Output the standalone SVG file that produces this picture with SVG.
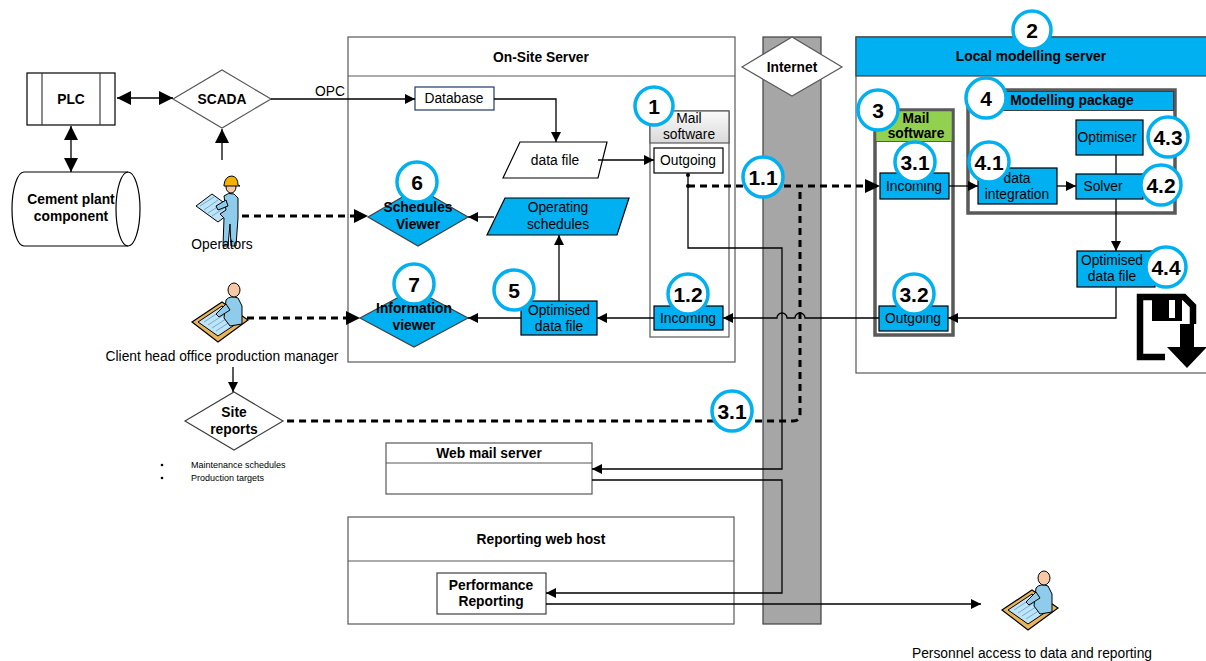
<svg xmlns="http://www.w3.org/2000/svg" width="1206" height="661" viewBox="0 0 1206 661">
  <defs>
    <style>
      text { font-family: "Liberation Sans", Arial, sans-serif; fill: #000; }
      .t { font-size: 13.8px; text-anchor: middle; }
      .b { font-size: 13.8px; font-weight: bold; text-anchor: middle; }
      .small { font-size: 9px; }
      .badge circle { fill: #fff; stroke: #00B0F0; stroke-width: 3.5; }
      .badge text { font-size: 21px; font-weight: bold; text-anchor: middle; }
      .frame { fill: #fff; stroke: #595959; stroke-width: 1.2; }
      .blue { fill: #00B0F0; stroke: #000; stroke-width: 1.2; }
      .white { fill: #fff; stroke: #000; stroke-width: 1.2; }
      .thick { fill: none; stroke: #595959; stroke-width: 3.5; }
      .ln { fill: none; stroke: #000; stroke-width: 1.3; }
      .dash { fill: none; stroke: #000; stroke-width: 3; stroke-dasharray: 7 5; }
      .skin { fill: #F6C8A6; stroke: #000; stroke-width: 1; }
      .shirt { fill: #8FCBEA; stroke: #000; stroke-width: 1; }
      .plan { fill: #BFE3F7; stroke: #000; stroke-width: 1; }
      .desk { fill: #E9B45A; stroke: #000; stroke-width: 1.2; }
    </style>
    <marker id="arr" viewBox="0 0 10 10" refX="10" refY="5" markerWidth="11" markerHeight="10" markerUnits="userSpaceOnUse" orient="auto-start-reverse">
      <path d="M0,0 L10,5 L0,10 z" fill="#000"/>
    </marker>
    <marker id="arrBig" viewBox="0 0 10 10" refX="10" refY="5" markerWidth="16" markerHeight="14" markerUnits="userSpaceOnUse" orient="auto-start-reverse">
      <path d="M0,0 L10,5 L0,10 z" fill="#000"/>
    </marker>
    <linearGradient id="hdrGrey" x1="0" y1="0" x2="0" y2="1">
      <stop offset="0" stop-color="#FAFAFA"/>
      <stop offset="1" stop-color="#D9D9D9"/>
    </linearGradient>
    <!-- worker holding a plan, with hard hat -->
    <g id="worker">
      <path class="plan" d="M-26,18 L-10,6 L12,22 L-4,34 z"/>
      <path d="M-22,18 L-8,9 M-18,22 L-4,12 M-14,25 L0,16 M-10,28 L4,19" stroke="#5aa0c8" stroke-width="0.8" fill="none"/>
      <path class="shirt" d="M2,8 Q6,4 12,6 L16,10 L16,30 L14,58 L9,58 L8,36 L6,58 L1,58 L2,30 L-2,26 L4,22 z"/>
      <path class="shirt" d="M4,12 L-6,18 L-4,22 L6,18 z"/>
      <ellipse class="skin" cx="9" cy="-1" rx="5" ry="6"/>
      <path d="M2,-3 Q3,-12 10,-12 Q16,-11 16,-3 L18,-2 L2,-2 z" fill="#F2B300" stroke="#000" stroke-width="1"/>
    </g>
    <!-- person sitting at a drafting desk -->
    <g id="deskman">
      <path class="desk" d="M-28,10 L2,-10 L28,8 L-2,30 z"/>
      <path class="plan" d="M-22,10 L2,-6 L22,8 L-2,24 z"/>
      <path d="M-16,10 L4,-3 M-12,13 L8,0 M-8,16 L12,3 M-4,19 L16,6" stroke="#5aa0c8" stroke-width="0.8" fill="none"/>
      <path class="shirt" d="M6,-12 Q10,-17 18,-14 L22,-6 L22,12 L10,14 L4,6 z"/>
      <path class="shirt" d="M6,-8 L-4,2 L-1,5 L10,-2 z"/>
      <ellipse class="skin" cx="14" cy="-22" rx="6" ry="7"/>
    </g>
  </defs>

  <rect width="1206" height="661" fill="#fff"/>

  <!-- Internet backbone band -->
  <g id="internet">
    <rect x="763" y="37" width="58" height="587" fill="#A6A6A6" stroke="#404040" stroke-width="1.2"/>
    <path d="M742,67 L792,37 L842,67 L792,96 z" fill="#fff" stroke="#595959" stroke-width="1.2"/>
    <text class="b" x="792" y="72">Internet</text>
  </g>

  <!-- field side -->
  <g id="plc">
    <rect x="27" y="73" width="88" height="52" class="white" stroke="#404040"/>
    <path d="M42,73 V125 M100,73 V125" stroke="#404040" stroke-width="1.2"/>
    <text class="b" x="71" y="104">PLC</text>
  </g>
  <g id="cement-plant">
    <path d="M24,172 H128 A12,37 0 0 1 128,246 H24 A12,37 0 0 1 24,172 Z" fill="#fff" stroke="#000" stroke-width="1.2"/>
    <path d="M128,172 A12,37 0 0 0 128,246" fill="none" stroke="#000" stroke-width="1.2"/>
    <text class="b" x="71" y="204">Cement plant</text>
    <text class="b" x="71" y="221">component</text>
  </g>
  <g id="scada">
    <path d="M173,99 L222,70 L271,99 L222,128 z" fill="#fff" stroke="#595959" stroke-width="1.2"/>
    <text class="b" x="222" y="104">SCADA</text>
  </g>
  <g id="operators">
    <use href="#worker" x="222" y="188"/>
    <text class="t" x="222" y="249">Operators</text>
  </g>
  <g id="client-manager">
    <use href="#deskman" x="220" y="312"/>
    <text class="t" x="222" y="361">Client head office production manager</text>
  </g>
  <g id="site-reports">
    <path d="M185,421 L234,392 L283,421 L234,450 z" fill="#fff" stroke="#404040" stroke-width="1.2"/>
    <text class="b" x="234" y="417">Site</text>
    <text class="b" x="234" y="434">reports</text>
    <circle cx="162" cy="465" r="1.3" fill="#000"/>
    <circle cx="162" cy="478" r="1.3" fill="#000"/>
    <text class="small" x="191" y="468">Maintenance schedules</text>
    <text class="small" x="191" y="481">Production targets</text>
  </g>

  <!-- On-site server -->
  <g id="on-site-server">
    <rect x="348" y="37" width="387" height="325" class="frame"/>
    <line x1="348" y1="76" x2="735" y2="76" stroke="#595959" stroke-width="1.2"/>
    <text class="b" x="541" y="62">On-Site Server</text>
  </g>
  <g id="database">
    <rect x="415" y="87" width="79" height="23" fill="#fff" stroke="#1F3864" stroke-width="1.2"/>
    <text class="t" x="454" y="103">Database</text>
  </g>
  <g id="data-file">
    <path d="M520,142 H607 L598,178 H503 z" class="white"/>
    <text class="t" x="555" y="165">data file</text>
  </g>
  <g id="mail-software-1">
    <rect x="650" y="111" width="79" height="226" fill="#fff" stroke="#595959" stroke-width="1.2"/>
    <rect x="650" y="111" width="79" height="32" fill="url(#hdrGrey)" stroke="#595959" stroke-width="1.2"/>
    <text class="t" x="689" y="123">Mail</text>
    <text class="t" x="689" y="139">software</text>
  </g>
  <g id="outgoing-1">
    <rect x="654" y="148" width="69" height="25" class="white"/>
    <text class="t" x="688" y="165">Outgoing</text>
  </g>
  <g id="incoming-1-2">
    <rect x="654" y="306" width="69" height="24" class="blue"/>
    <text class="t" x="688" y="323">Incoming</text>
  </g>
  <g id="optimised-data-file-5">
    <rect x="521" y="301" width="76" height="34" class="blue"/>
    <text class="t" x="559" y="315">Optimised</text>
    <text class="t" x="559" y="331">data file</text>
  </g>
  <g id="operating-schedules">
    <path d="M505,198 H629 L617,235 H487 z" class="blue"/>
    <text class="t" x="558" y="212">Operating</text>
    <text class="t" x="558" y="229">schedules</text>
  </g>
  <g id="schedules-viewer">
    <path d="M368,217 L418,188 L468,217 L418,246 z" fill="#00B0F0" stroke="#404040" stroke-width="1.2"/>
    <text class="b" x="418" y="212">Schedules</text>
    <text class="b" x="418" y="229">Viewer</text>
  </g>
  <g id="information-viewer">
    <path d="M360,318 L414,289 L468,318 L414,347 z" fill="#00B0F0" stroke="#404040" stroke-width="1.2"/>
    <text class="b" x="414" y="313">Information</text>
    <text class="b" x="414" y="330">viewer</text>
  </g>

  <!-- Hosted services -->
  <g id="web-mail-server">
    <rect x="386" y="443" width="206" height="51" class="frame"/>
    <line x1="386" y1="463" x2="592" y2="463" stroke="#595959" stroke-width="1.2"/>
    <text class="b" x="489" y="458">Web mail server</text>
  </g>
  <g id="reporting-web-host">
    <rect x="348" y="517" width="386" height="107" class="frame"/>
    <line x1="348" y1="561" x2="734" y2="561" stroke="#595959" stroke-width="1.2"/>
    <text class="b" x="541" y="544">Reporting web host</text>
  </g>
  <g id="performance-reporting">
    <rect x="437" y="573" width="109" height="41" fill="#fff" stroke="#404040" stroke-width="1.2"/>
    <text class="b" x="491" y="590">Performance</text>
    <text class="b" x="491" y="606">Reporting</text>
  </g>
  <g id="personnel">
    <use href="#deskman" x="1030" y="600"/>
    <text class="t" x="1032" y="658">Personnel access to data and reporting</text>
  </g>

  <!-- Local modelling server -->
  <g id="local-modelling-server">
    <rect x="856" y="37" width="360" height="336" class="frame"/>
    <rect x="856" y="37" width="360" height="39" fill="#00B0F0" stroke="#404040" stroke-width="1.2"/>
    <text class="b" x="1031" y="61">Local modelling server</text>
  </g>
  <g id="mail-software-3">
    <rect x="875" y="110" width="78" height="225" fill="#fff" class="thick"/>
    <rect x="876.5" y="111.5" width="75" height="30" fill="#92D050"/>
    <line x1="876" y1="141.5" x2="952" y2="141.5" stroke="#595959" stroke-width="1"/>
    <text class="b" x="916" y="123">Mail</text>
    <text class="b" x="916" y="138">software</text>
  </g>
  <g id="incoming-3-1">
    <rect x="880" y="173" width="69" height="26" class="blue"/>
    <text class="t" x="914" y="191">Incoming</text>
  </g>
  <g id="outgoing-3-2">
    <rect x="879" y="306" width="69" height="25" class="blue"/>
    <text class="t" x="913" y="323">Outgoing</text>
  </g>
  <g id="modelling-package">
    <rect x="968" y="90" width="207" height="123" fill="#fff" class="thick"/>
    <rect x="969.5" y="91.5" width="204" height="19" fill="#00B0F0" stroke="#404040" stroke-width="1"/>
    <text class="b" x="1072" y="105">Modelling package</text>
  </g>
  <g id="data-integration">
    <rect x="978" y="168" width="79" height="36" class="blue"/>
    <text class="t" x="1017" y="183">data</text>
    <text class="t" x="1017" y="199">integration</text>
  </g>
  <g id="solver">
    <rect x="1076" y="174" width="67" height="25" class="blue"/>
    <text class="t" x="1103" y="191">Solver</text>
  </g>
  <g id="optimiser">
    <rect x="1076" y="120" width="67" height="35" class="blue"/>
    <text class="t" x="1107" y="142">Optimiser</text>
  </g>
  <g id="optimised-data-file-4-4">
    <rect x="1077" y="251" width="78" height="36" class="blue"/>
    <text class="t" x="1112" y="265">Optimised</text>
    <text class="t" x="1112" y="281">data file</text>
  </g>
  <g id="save-icon">
    <path d="M1165,357 H1140 V297 H1184 L1193,306 V324" fill="none" stroke="#000" stroke-width="6.5"/>
    <rect x="1152" y="297" width="30" height="24" fill="#000"/>
    <rect x="1169" y="300" width="6" height="18" fill="#fff"/>
    <rect x="1180" y="324" width="14" height="25" fill="#000"/>
    <path d="M1167,347 H1207 L1187,368 z" fill="#000"/>
  </g>

  <!-- Connectors -->
  <g id="connectors">
    <path class="ln" d="M117,98 H173" marker-start="url(#arrBig)" marker-end="url(#arrBig)"/>
    <path class="ln" d="M71,126 V172" marker-start="url(#arrBig)" marker-end="url(#arrBig)"/>
    <path class="ln" d="M222,160 V129" marker-end="url(#arrBig)"/>
    <path class="ln" d="M271,99 H415" marker-end="url(#arr)"/>
    <text class="t" x="330" y="96">OPC</text>
    <path class="ln" d="M494,99 H556 V142" marker-end="url(#arr)"/>
    <path class="ln" d="M598,160 H654" marker-end="url(#arr)"/>
    <path class="ln" d="M949,186 H978" marker-end="url(#arr)"/>
    <path class="ln" d="M1057,186 H1076" marker-end="url(#arr)"/>
    <path class="ln" d="M1116,155 V174"/>
    <path class="ln" d="M1116,199 V251" marker-end="url(#arr)"/>
    <path class="ln" d="M1116,287 V318 H948" marker-end="url(#arr)"/>
    <path class="ln" d="M879,318 H805 A5,5 0 0 0 795,318 H787 A5,5 0 0 0 777,318 H723" marker-end="url(#arr)"/>
    <path class="ln" d="M654,318 H597" marker-end="url(#arr)"/>
    <path class="ln" d="M521,318 H468" marker-end="url(#arr)"/>
    <path class="ln" d="M559,301 V235" marker-end="url(#arr)"/>
    <path class="ln" d="M494,217 H468" marker-end="url(#arr)"/>
    <path class="ln" d="M688,173 V248 H782 V469 H592" marker-end="url(#arr)"/>
    <path class="ln" d="M592,480 H782 V593 H546" marker-end="url(#arr)"/>
    <path class="ln" d="M546,604 H981" marker-end="url(#arr)"/>
    <path class="ln" d="M233,367 V392" marker-end="url(#arr)"/>
    <circle cx="688" cy="175" r="2" fill="#000"/>
    <circle cx="688" cy="186" r="2" fill="#000"/>
    <path class="dash" d="M688,186 H866"/>
    <path d="M865,179 L880,186 L865,193 z" fill="#000"/>
    <path class="dash" d="M800,192 V414 Q800,421 793,421 H284"/>
    <path class="dash" d="M242,216 H356"/>
    <path d="M354,209 L368,216 L354,223 z" fill="#000"/>
    <path class="dash" d="M247,318 H348"/>
    <path d="M346,311 L360,318 L346,325 z" fill="#000"/>
  </g>

  <!-- Numbered step markers -->
  <g id="badges">
    <g class="badge"><circle cx="654" cy="106" r="19"/><text x="654" y="113.5">1</text></g>
    <g class="badge"><circle cx="763" cy="177" r="20"/><text x="763" y="184.5">1.1</text></g>
    <g class="badge"><circle cx="688" cy="294" r="20"/><text x="688" y="301.5">1.2</text></g>
    <g class="badge"><circle cx="1032" cy="30" r="19"/><text x="1032" y="37.5">2</text></g>
    <g class="badge"><circle cx="878" cy="110" r="20"/><text x="878" y="117.5">3</text></g>
    <g class="badge"><circle cx="915" cy="162" r="20"/><text x="915" y="169.5">3.1</text></g>
    <g class="badge"><circle cx="914" cy="294" r="20"/><text x="914" y="301.5">3.2</text></g>
    <g class="badge"><circle cx="732" cy="411" r="20"/><text x="732" y="418.5">3.1</text></g>
    <g class="badge"><circle cx="986" cy="98" r="20"/><text x="986" y="105.5">4</text></g>
    <g class="badge"><circle cx="989" cy="162" r="20"/><text x="989" y="169.5">4.1</text></g>
    <g class="badge"><circle cx="1161" cy="185" r="20"/><text x="1161" y="192.5">4.2</text></g>
    <g class="badge"><circle cx="1168" cy="137" r="20"/><text x="1168" y="144.5">4.3</text></g>
    <g class="badge"><circle cx="1166" cy="267" r="20"/><text x="1166" y="274.5">4.4</text></g>
    <g class="badge"><circle cx="514" cy="290" r="20"/><text x="514" y="297.5">5</text></g>
    <g class="badge"><circle cx="417" cy="182" r="20"/><text x="417" y="189.5">6</text></g>
    <g class="badge"><circle cx="414" cy="284" r="20"/><text x="414" y="291.5">7</text></g>
  </g>
</svg>
